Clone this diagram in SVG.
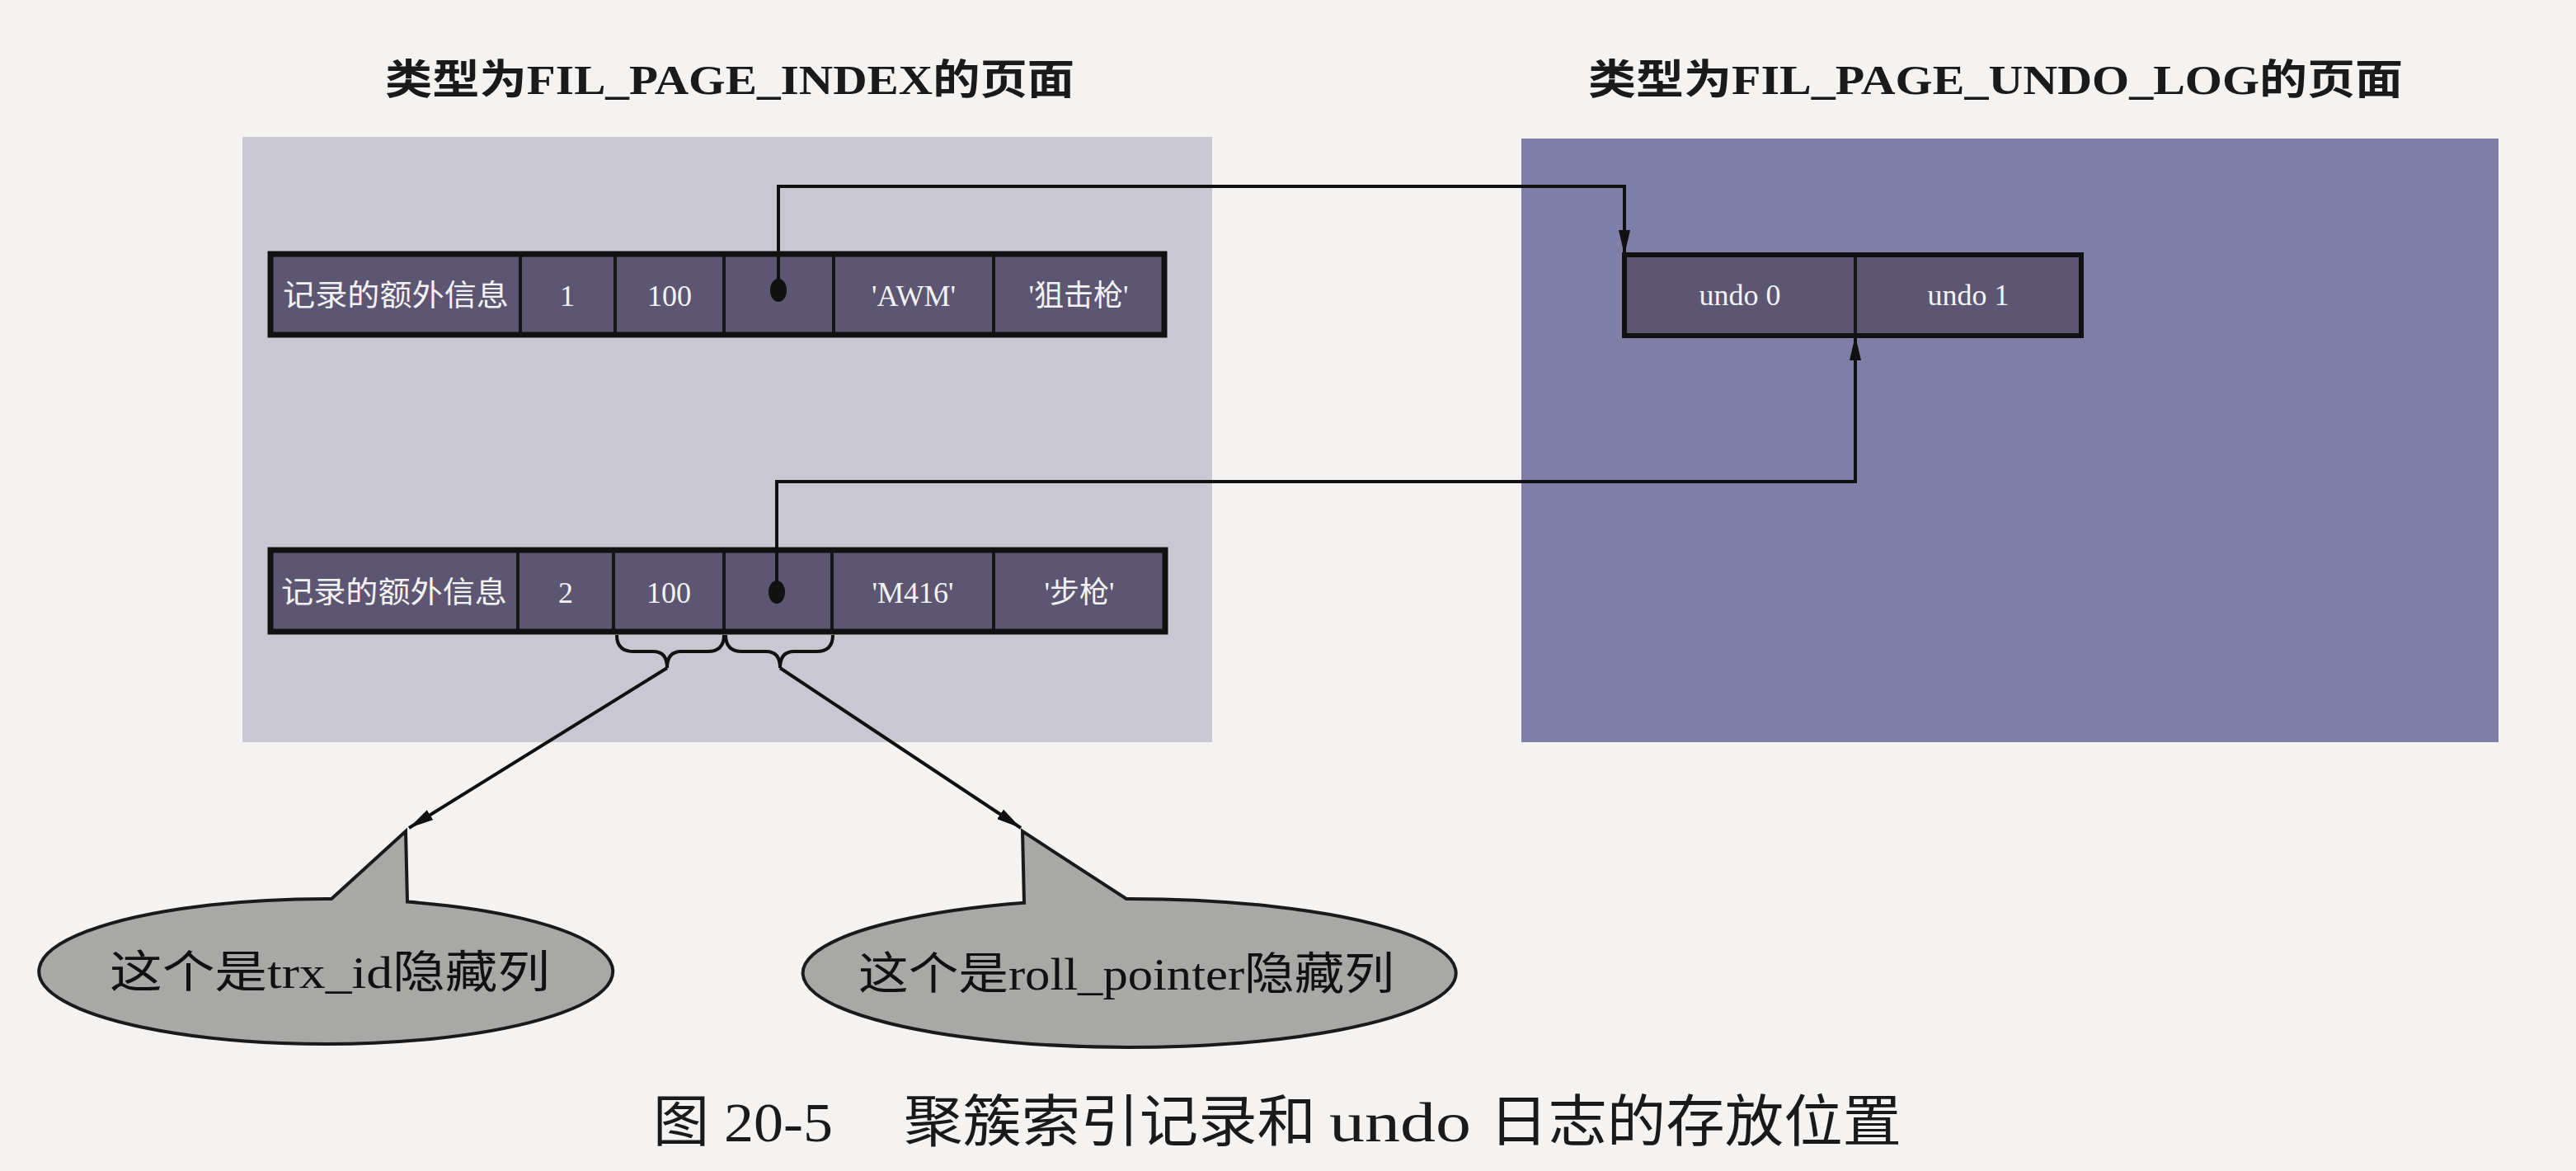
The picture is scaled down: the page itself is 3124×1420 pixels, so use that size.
<svg xmlns="http://www.w3.org/2000/svg" width="3124" height="1420" viewBox="0 0 3124 1420">
<style>
.title{font-family:"Liberation Serif","Noto Sans CJK SC",serif;font-weight:bold;font-size:50px;fill:#1a1a1a;text-anchor:middle}
.cell{fill:#5d5672;stroke:#161616;stroke-width:4}
.ct{font-family:"Liberation Serif","Noto Sans CJK SC",serif;font-size:36px;fill:#f2f2f2;text-anchor:middle}
.conn{fill:none;stroke:#111;stroke-width:4}
.callout{fill:#a8a8a6;stroke:#1a1a1a;stroke-width:4}
.cot{font-family:"Liberation Serif","Noto Sans CJK SC",serif;font-size:54px;fill:#111;text-anchor:middle}
.cap{font-family:"Liberation Serif","Noto Sans CJK SC",serif;font-size:68px;fill:#1a1a1a}
</style>
<defs>
<marker id="arr" viewBox="0 0 30 14" refX="30" refY="7" markerWidth="30" markerHeight="14" markerUnits="userSpaceOnUse" orient="auto">
<path d="M0 0 L30 7 L0 14 Z" fill="#111"/>
</marker>
</defs>
<rect x="0" y="0" width="3124" height="1420" fill="#f4f3f1"/>

<g id="title-index"><text class="title" x="885" y="114" textLength="836" lengthAdjust="spacingAndGlyphs">类型为FIL_PAGE_INDEX的页面</text></g>
<g id="title-undo"><text class="title" x="2420" y="114" textLength="988" lengthAdjust="spacingAndGlyphs">类型为FIL_PAGE_UNDO_LOG的页面</text></g>

<g id="page-index"><rect x="294" y="166" width="1176" height="734" fill="#c9c8d2"/></g>
<g id="page-undo"><rect x="1845" y="168" width="1185" height="732" fill="#7f7ea7"/></g>

<g id="record-1">
<rect class="cell" x="328" y="308" width="303" height="98"/>
<rect class="cell" x="631" y="308" width="115" height="98"/>
<rect class="cell" x="746" y="308" width="132" height="98"/>
<rect class="cell" x="878" y="308" width="133" height="98"/>
<rect class="cell" x="1011" y="308" width="194" height="98"/>
<rect class="cell" x="1205" y="308" width="207" height="98"/>
<rect x="328" y="308" width="1084" height="98" fill="none" stroke="#111" stroke-width="7"/>
<text class="ct" x="480" y="371" textLength="274" lengthAdjust="spacingAndGlyphs">记录的额外信息</text>
<text class="ct" x="688" y="371">1</text>
<text class="ct" x="812" y="371">100</text>
<ellipse cx="944" cy="352" rx="10" ry="14" fill="#111"/>
<text class="ct" x="1108" y="371">'AWM'</text>
<text class="ct" x="1308" y="371">'狙击枪'</text>
</g>

<g id="record-2">
<rect class="cell" x="328" y="667" width="300" height="99"/>
<rect class="cell" x="628" y="667" width="116" height="99"/>
<rect class="cell" x="744" y="667" width="134" height="99"/>
<rect class="cell" x="878" y="667" width="131" height="99"/>
<rect class="cell" x="1009" y="667" width="196" height="99"/>
<rect class="cell" x="1205" y="667" width="208" height="99"/>
<rect x="328" y="667" width="1085" height="99" fill="none" stroke="#111" stroke-width="7"/>
<text class="ct" x="478" y="731" textLength="274" lengthAdjust="spacingAndGlyphs">记录的额外信息</text>
<text class="ct" x="686" y="731">2</text>
<text class="ct" x="811" y="731">100</text>
<ellipse cx="942" cy="718" rx="10" ry="14" fill="#111"/>
<text class="ct" x="1107" y="731">'M416'</text>
<text class="ct" x="1309" y="731">'步枪'</text>
</g>

<g id="undo-log">
<rect class="cell" x="1970" y="309" width="280" height="98" fill="#5f5b78"/>
<rect class="cell" x="2250" y="309" width="274" height="98" fill="#5f5b78"/>
<rect x="1970" y="309" width="554" height="98" fill="none" stroke="#111" stroke-width="6"/>
<text class="ct" x="2110" y="370" font-size="38">undo 0</text>
<text class="ct" x="2387" y="370" font-size="38">undo 1</text>
</g>

<g id="callout-trx">
<path class="callout" d="M 402 1090 L 492 1008 L 494 1093.6 A 348 88 0 1 1 402 1090 Z"/>
<text class="cot" x="400" y="1198" textLength="534" lengthAdjust="spacingAndGlyphs">这个是trx_id隐藏列</text>
</g>
<g id="callout-roll">
<path class="callout" d="M 1242 1094.8 L 1240 1008 L 1366 1090 A 396 90 0 1 1 1242 1094.8 Z"/>
<text class="cot" x="1366" y="1200" textLength="650" lengthAdjust="spacingAndGlyphs">这个是roll_pointer隐藏列</text>
</g>

<g id="connectors">
<path class="conn" d="M 944 352 L 944 226 L 1970 226 L 1970 309" marker-end="url(#arr)"/>
<path class="conn" d="M 942 718 L 942 584 L 2250 584 L 2250 407" marker-end="url(#arr)"/>
<path class="conn" stroke-width="3" d="M 748 770 Q 748 790 768 790 L 792 790 Q 809 790 809 810 Q 809 790 826 790 L 858 790 Q 878 790 878 770"/>
<path class="conn" stroke-width="3" d="M 880 770 Q 880 790 900 790 L 929 790 Q 946 790 946 810 Q 946 790 963 790 L 990 790 Q 1010 790 1010 770"/>
<path class="conn" stroke-width="3" d="M 809 810 L 496 1004" marker-end="url(#arr)"/>
<path class="conn" stroke-width="3" d="M 946 810 L 1238 1004" marker-end="url(#arr)"/>
</g>

<g id="caption">
<text class="cap" y="1384"><tspan x="792">图</tspan><tspan x="878" textLength="132" lengthAdjust="spacingAndGlyphs">20-5</tspan><tspan x="1096" textLength="500" lengthAdjust="spacingAndGlyphs">聚簇索引记录和</tspan><tspan x="1612" textLength="172" lengthAdjust="spacingAndGlyphs">undo</tspan><tspan x="1806" textLength="500" lengthAdjust="spacingAndGlyphs">日志的存放位置</tspan></text>
</g>
</svg>
